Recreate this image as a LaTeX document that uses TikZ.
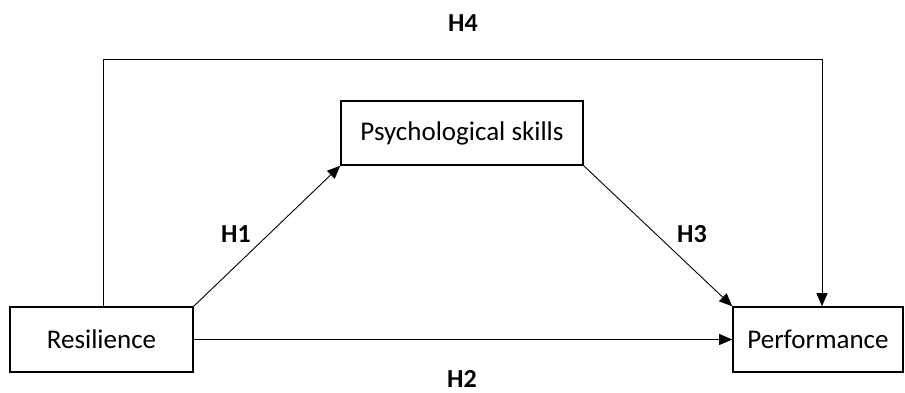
\documentclass[tikz,border=0pt]{standalone}
\usepackage{fontspec}
\setmainfont{Carlito}
\usetikzlibrary{arrows.meta,positioning}

\tikzset{
  box/.style={draw, line width=1.6pt, inner sep=0pt, font=\fontsize{27}{32}\selectfont},
  hyp/.style={anchor=base, inner sep=0pt, font=\fontsize{26}{30}\selectfont\bfseries},
  link/.style={line width=0.9pt, -{Triangle[length=13pt,width=11pt]}}
}

\begin{document}
\begin{tikzpicture}[x=1pt,y=-1pt]
  \useasboundingbox (0,0) rectangle (905,393);
  \node[box, minimum width=183pt, minimum height=65pt] (res) at (101.5,339.5) {Resilience};
  \node[box, minimum width=242pt, minimum height=64pt] (psy) at (462,133) {Psychological skills};
  \node[box, minimum width=170pt, minimum height=65pt] (perf) at (818,339.5) {Performance};
  \coordinate (top) at (822,59);

  \node[hyp] (h4) at (463,32) {H4};
  \node[hyp] (h1) at (236,242) {H1};
  \node[hyp] (h3) at (692,242) {H3};
  \node[hyp] (h2) at (462,387) {H2};

  \draw[link] ([xshift=2pt]res.north) |- (top) -- (top |- perf.north);
  \draw[link] (res.north east) -- (psy.south west);
  \draw[link] (psy.south east) -- (perf.north west);
  \draw[link] (res.east) -- (perf.west);
\end{tikzpicture}
\end{document}
